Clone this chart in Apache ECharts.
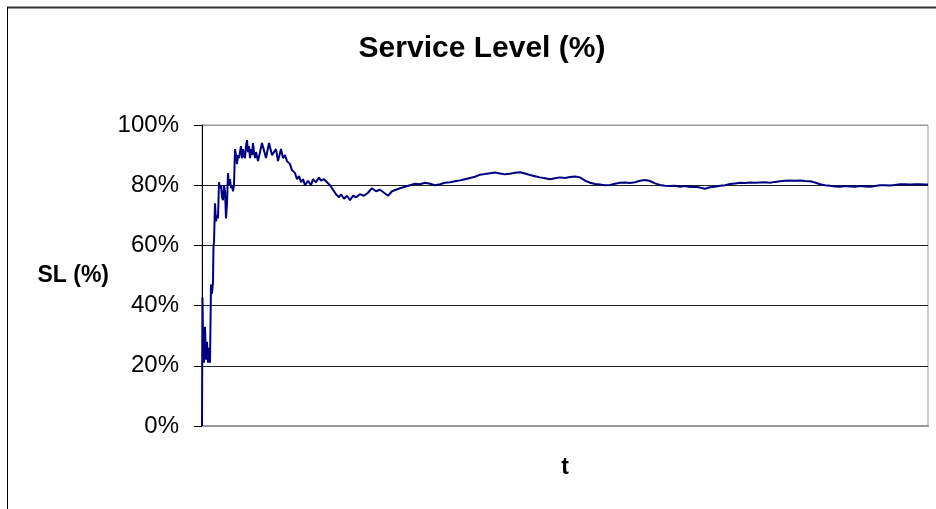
<!DOCTYPE html>
<html>
<head>
<meta charset="utf-8">
<title>Service Level (%)</title>
<script src="https://cdn.jsdelivr.net/npm/echarts@6/dist/echarts.min.js"></script>
<style>
  html, body { margin: 0; padding: 0; background: #fff; }
  #main { width: 936px; height: 509px; }
</style>
</head>
<body>
<div id="main"></div>
<script>
// [t, service level %]
var warmup = [
  [0, 0], [0.5, 42.7], [1, 30], [2, 21], [3, 33], [4, 22], [5, 28], [6, 21], [7, 26], [8, 21],
  [9, 47], [10, 44], [11, 48], [11.5, 60], [12, 61], [13, 74], [14, 68], [15, 70], [16, 69],
  [17, 81], [18, 79], [19, 80], [20, 76], [21, 75], [22, 80], [23, 78], [24, 69], [25, 74],
  [26, 84], [27, 80], [28, 82], [29, 79], [30, 80], [31, 78], [32, 80], [33, 92], [34, 90],
  [35, 87], [36, 90], [37, 89], [38, 91], [39, 93], [40, 89], [41, 92], [42, 90], [43, 89],
  [44, 93], [45, 95], [46, 91], [47, 93], [48, 89], [49, 92], [50, 90], [51, 94], [52, 91],
  [53, 89], [54, 91]
];
var settling = [
  [56, 88], [60, 94], [64, 89], [67, 94], [70, 90], [74, 92], [76, 88], [79, 92], [81, 89],
  [83, 90], [85, 88], [88, 87], [90, 85], [93, 84], [95, 82], [97, 83], [99, 81], [101, 82],
  [103, 80], [106, 81.5], [109, 80], [111, 82], [114, 81], [117, 82.5], [119, 81.5], [122, 82],
  [125, 81], [128, 80], [131, 78.5], [134, 77], [137, 76], [139, 77], [142, 75.5], [145, 76.5],
  [148, 75], [151, 76.5], [154, 76], [158, 77], [162, 76.5], [166, 77.5], [170, 79], [174, 78],
  [178, 78.5], [182, 77.5], [186, 76.5], [190, 78], [194, 78.5], [198, 79], [203, 79.5]
];
var steady = [
  [208, 80], [213, 80.5], [218, 80.3], [223, 80.8], [228, 80.5], [233, 80], [238, 80.3],
  [243, 80.8], [248, 81], [253, 81.3], [258, 81.6], [263, 82], [268, 82.4], [273, 82.8],
  [278, 83.5], [283, 83.7], [288, 84], [293, 84.2], [298, 83.9], [303, 83.6], [308, 83.8],
  [313, 84.1], [318, 84.3], [323, 83.9], [328, 83.4], [333, 83], [338, 82.6], [343, 82.3],
  [348, 82], [353, 82.3], [358, 82.6], [363, 82.4], [368, 82.7], [373, 82.9], [378, 82.6],
  [383, 81.5], [388, 80.8], [393, 80.4], [398, 80.2], [403, 80], [408, 80.1], [413, 80.5],
  [418, 80.8], [423, 80.9], [428, 80.7], [433, 81], [438, 81.5], [443, 81.7], [448, 81.4],
  [453, 80.6], [458, 80.1], [463, 79.8], [468, 79.7], [473, 79.8], [478, 79.5], [483, 79.7],
  [488, 79.4], [493, 79.5], [498, 79.2], [503, 78.8], [508, 79.3], [513, 79.5], [518, 79.8],
  [523, 80], [528, 80.4], [533, 80.6], [538, 80.8], [543, 80.7], [548, 80.9], [553, 80.8],
  [558, 80.9], [563, 81], [568, 80.8], [573, 81.1], [578, 81.3], [583, 81.5], [588, 81.6],
  [593, 81.5], [598, 81.6], [603, 81.4], [608, 81.3], [613, 80.9], [618, 80.3], [623, 80],
  [628, 79.8], [633, 79.6], [638, 79.5], [643, 79.7], [648, 79.6], [653, 79.5], [658, 79.7],
  [663, 79.6], [668, 79.5], [673, 79.7], [678, 80], [683, 80], [688, 79.9], [693, 80.1],
  [698, 80.3], [703, 80.3], [708, 80.2], [713, 80.3], [718, 80.3], [723, 80.2], [726, 80.2]
];
var yTicks = [0, 20, 40, 60, 80, 100];

var chartDom = document.getElementById("main");
var myChart = echarts.init(chartDom);
var font = "'Liberation Sans', Arial, sans-serif";
var option;

option = {
  animation: false,
  backgroundColor: "#fff",
  title: {
    text: "Service Level (%)",
    left: 477,
    textAlign: "center",
    top: 29,
    textStyle: { fontFamily: font, fontSize: 30, fontWeight: "bold", color: "#000" }
  },
  graphic: [
    { type: "line", shape: { x1: 7, y1: 7.5, x2: 936, y2: 7.5 }, style: { stroke: "#333", lineWidth: 2 } },
    { type: "line", shape: { x1: 7.5, y1: 7, x2: 7.5, y2: 509 }, style: { stroke: "#000", lineWidth: 1 } }
  ],
  grid: {
    left: 202, right: 8, top: 125, bottom: 83,
    show: true, borderColor: "#999", borderWidth: 1
  },
  xAxis: {
    type: "value",
    min: 0,
    max: 726,
    name: "t",
    nameLocation: "middle",
    nameGap: 30,
    nameTextStyle: { fontFamily: font, fontSize: 23, fontWeight: "bold", color: "#000" },
    axisLine: { show: true, lineStyle: { color: "#999", width: 2 } },
    axisTick: { show: false },
    axisLabel: { show: false },
    splitLine: { show: false }
  },
  yAxis: {
    type: "value",
    min: yTicks[0],
    max: yTicks[yTicks.length - 1],
    interval: 20,
    name: "SL (%)",
    nameLocation: "middle",
    nameRotate: 0,
    nameGap: 93,
    nameTextStyle: { fontFamily: font, fontSize: 23, fontWeight: "bold", color: "#000", align: "right" },
    axisLine: { show: true, lineStyle: { color: "#000", width: 1 } },
    axisTick: { show: true, inside: false, length: 8, lineStyle: { color: "#000" } },
    axisLabel: {
      formatter: "{value}%",
      margin: 23,
      fontFamily: font,
      fontSize: 24,
      color: "#000"
    },
    splitLine: {
      show: true,
      lineStyle: { color: ["#999", "#222", "#222", "#222", "#222", "#999"], width: 1 }
    }
  },
  series: [
    {
      type: "line",
      data: warmup.concat(settling, steady),
      showSymbol: false,
      lineStyle: { color: "#000080", width: 2 },
      itemStyle: { color: "#000080" }
    }
  ]
};

option && myChart.setOption(option);
</script>
</body>
</html>
